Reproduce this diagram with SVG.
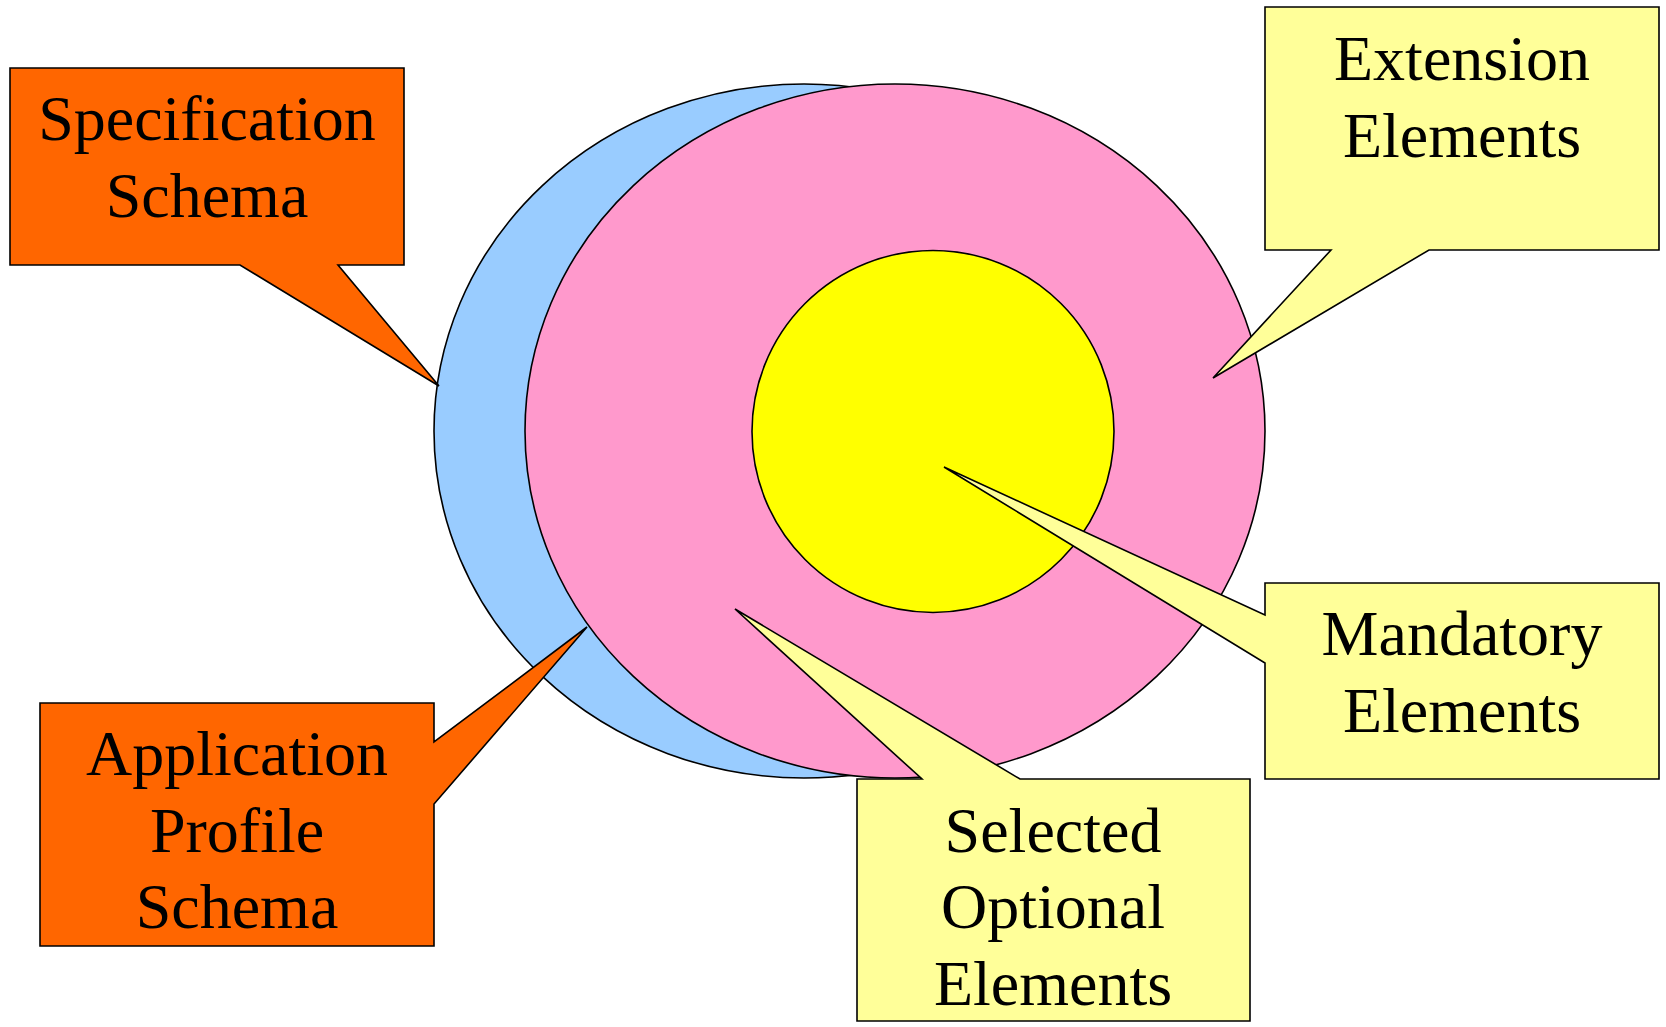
<svg xmlns="http://www.w3.org/2000/svg" width="1666" height="1027" viewBox="0 0 1666 1027">
<style>
.sh{stroke:#000;stroke-width:1.6;stroke-linejoin:miter}
.lbl{font-family:"Liberation Serif","Times New Roman",serif;font-size:64px;fill:#000;text-anchor:middle}
.org{fill:#FF6600}
.ly{fill:#FFFF99}
</style>
<rect width="1666" height="1027" fill="#fff"/>
<g id="shapes">
<ellipse id="application-profile" class="sh" cx="804" cy="431" rx="370" ry="347" fill="#99CCFF"/>
<ellipse id="specification" class="sh" cx="895" cy="431" rx="370" ry="347" fill="#FF99CC"/>
<circle id="mandatory" class="sh" cx="933" cy="431.5" r="181" fill="#FFFF00"/>
</g>
<g id="connectors"></g>
<g id="callout-spec">
<path class="sh org" d="M10,68 H404 V265 H338 L439,386 L240,265 H10 Z"/>
<text class="lbl" x="207" y="140">Specification</text>
<text class="lbl" x="207" y="217">Schema</text>
</g>
<g id="callout-extension">
<path class="sh ly" d="M1265,7 H1659 V250 H1429 L1213,378 L1331,250 H1265 Z"/>
<text class="lbl" x="1462" y="80">Extension</text>
<text class="lbl" x="1462" y="157">Elements</text>
</g>
<g id="callout-app">
<path class="sh org" d="M40,703 H434 V742 L587,627 L434,804 V946 H40 Z"/>
<text class="lbl" x="237" y="775">Application</text>
<text class="lbl" x="237" y="852">Profile</text>
<text class="lbl" x="237" y="928">Schema</text>
</g>
<g id="callout-selected">
<path class="sh ly" d="M857,779 H922 L735,609 L1020,779 H1250 V1021 H857 Z"/>
<text class="lbl" x="1053" y="852">Selected</text>
<text class="lbl" x="1053" y="928">Optional</text>
<text class="lbl" x="1053" y="1005">Elements</text>
</g>
<g id="callout-mandatory">
<path class="sh ly" d="M1265,583 H1659 V779 H1265 V663 L944,467 L1265,615 Z"/>
<text class="lbl" x="1462" y="655">Mandatory</text>
<text class="lbl" x="1462" y="732">Elements</text>
</g>
</svg>
